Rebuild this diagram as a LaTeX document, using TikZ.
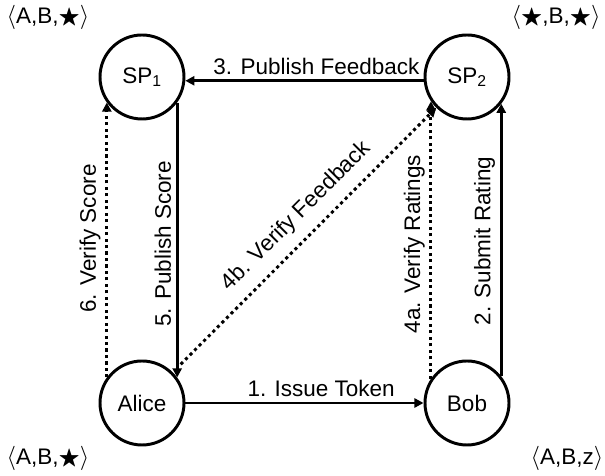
\documentclass[tikz,border=0pt]{standalone}
\usepackage{amssymb}
\usepackage{fontspec}
\setmainfont{Liberation Sans}
\usepackage{tikz}
\usetikzlibrary{arrows.meta,positioning}

\begin{document}
\begin{tikzpicture}[font=\fontsize{16}{19}\selectfont, line width=2.1pt,
	>={Triangle[length=6.5pt,width=6.5pt]}]
	\tikzstyle{party} = [circle, draw, minimum size=2.1cm, inner sep=0pt];
	\tikzstyle{verify} = [dash pattern=on 2.2pt off 2.4pt];
	\useasboundingbox (0,0) rectangle (15.125,11.9);

	\node[party] (Alice) at (3.55,1.825) {Alice};
	\node[party] (Bob) [right of=Alice, node distance=8.125cm] {Bob};
	\node[party] (SP1) [above of=Alice, node distance=8.15cm] {SP\textsubscript{1}};
	\node[party] (SP2) [right of=SP1, node distance=8.125cm] {SP\textsubscript{2}};

	% corner states
	\node (StA) at (1.2,0.45) {$\langle$A,B,$\bigstar\rangle$};
	\node (StB) at (14.175,0.45) {$\langle$A,B,z$\rangle$};
	\node (StS1) at (1.2,11.475) {$\langle$A,B,$\bigstar\rangle$};
	\node (StS2) at (13.9,11.475) {$\langle\bigstar$,B,$\bigstar\rangle$};

	\path (Alice) edge[->] node [pos=0.57, above]{1. Issue Token} (Bob);
	\path (Bob.38) edge[->] node [pos=0.47, rotate=90, above=5pt]{2. Submit Rating} (SP2.-38);
	\path (SP2.185) edge[->] node [pos=0.45, above]{3. Publish Feedback} (SP1.-5);
	\path (Bob.146) edge[->, verify] node [pos=0.48, rotate=90, above=1pt]{4a. Verify Ratings} (SP2.214);
	\path (Alice.45) edge[->, verify, shorten <=8pt] node [pos=0.53, sloped, above=4pt]{4b. Verify Feedback} (SP2.225);
	\path (SP1.-36) edge[->] node [pos=0.54, rotate=90, above=5pt]{5. Publish Score} (Alice.36);
	\path (Alice.144) edge[->, verify] node [midway, rotate=90, above=1pt]{6. Verify Score} (SP1.216);
\end{tikzpicture}
\end{document}
